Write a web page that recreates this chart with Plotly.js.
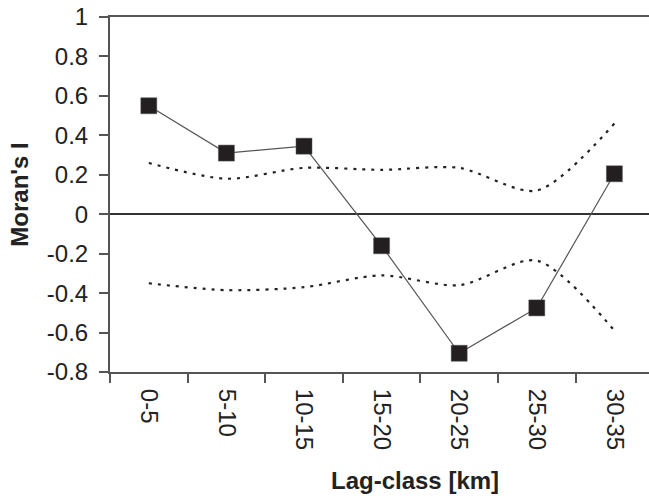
<!DOCTYPE html>
<html>
<head>
<meta charset="utf-8">
<script src="https://cdn.plot.ly/plotly-3.0.1.min.js"></script>
<style>html,body{margin:0;padding:0;background:#fff;}#chart{width:649px;height:496px;}</style>
</head>
<body>
<div id="chart"></div>
<script>
var lagClasses = ["0-5", "5-10", "10-15", "15-20", "20-25", "25-30", "30-35"];
var moransI = [0.55, 0.31, 0.345, -0.16, -0.705, -0.475, 0.205];
var upperBound = [0.26, 0.18, 0.235, 0.225, 0.235, 0.12, 0.46];
var lowerBound = [-0.35, -0.385, -0.37, -0.31, -0.36, -0.235, -0.59];
var yTickVals = [-0.8, -0.6, -0.4, -0.2, 0, 0.2, 0.4, 0.6, 0.8, 1];
var yTickText = ["-0.8", "-0.6", "-0.4", "-0.2", "0", "0.2", "0.4", "0.6", "0.8", "1"];

var dotLine = {color: "#222", width: 2.2, dash: "3px,6px", shape: "spline", smoothing: 0.8};
var traces = [
  {x: lagClasses, y: upperBound, mode: "lines", line: dotLine, hoverinfo: "skip"},
  {x: lagClasses, y: lowerBound, mode: "lines", line: dotLine, hoverinfo: "skip"},
  {x: lagClasses, y: moransI, mode: "lines+markers",
   line: {color: "#555", width: 1.2},
   marker: {symbol: "square", size: 16, color: "#231f20", line: {color: "#555", width: 0.5}}}
];

var layout = {
  width: 649, height: 496,
  margin: {l: 110, r: 0, t: 17, b: 124},
  paper_bgcolor: "#fff", plot_bgcolor: "#fff",
  showlegend: false,
  font: {family: "Liberation Sans, Arial, sans-serif", color: "#222", size: 24},
  xaxis: {
    type: "category", range: [-0.5, 6.446],
    tickson: "boundaries", ticks: "outside", ticklen: 9, tickwidth: 2, tickcolor: "#555",
    tickangle: 90, tickfont: {size: 24, color: "#222"}, ticklabelstandoff: 10,
    showline: true, linecolor: "#555", linewidth: 2, mirror: true,
    showgrid: false, zeroline: false
  },
  yaxis: {
    range: [-0.8, 1], tickvals: yTickVals, ticktext: yTickText,
    ticks: "outside", ticklen: 9, tickwidth: 2, tickcolor: "#555",
    tickfont: {size: 24, color: "#222"}, ticklabelstandoff: 6,
    showline: true, linecolor: "#555", linewidth: 2, mirror: true,
    showgrid: false, zeroline: true, zerolinecolor: "#333", zerolinewidth: 2,
    title: {text: "<b>Moran's I</b>", font: {size: 24, color: "#222"}, standoff: 11}
  },
  annotations: [{
    text: "<b>Lag-class [km]</b>", xref: "paper", yref: "paper",
    x: 0.566, y: 0, yshift: -108, xanchor: "center", yanchor: "middle",
    showarrow: false, font: {size: 24, color: "#222"}
  }]
};

Plotly.newPlot("chart", traces, layout, {displayModeBar: false, staticPlot: true});
</script>
</body>
</html>
